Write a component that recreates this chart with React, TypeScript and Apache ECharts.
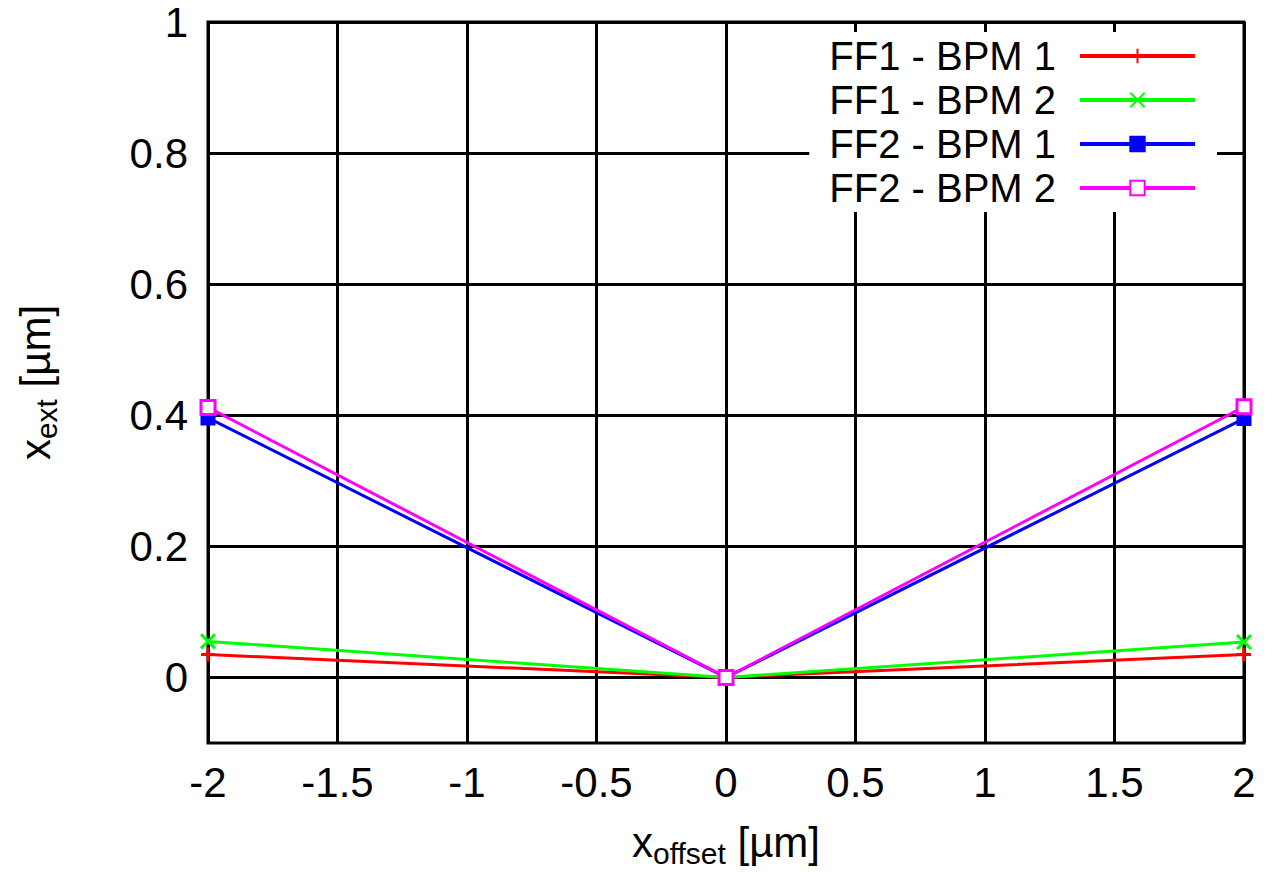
import React, { useEffect, useRef } from "react";
import * as echarts from "echarts";

const seriesNames = ["FF1 - BPM 1", "FF1 - BPM 2", "FF2 - BPM 1", "FF2 - BPM 2"];
const xOffsets = [-2, 0, 2];
const ff1Bpm1 = [0.035, 0, 0.035];
const ff1Bpm2 = [0.055, 0, 0.054];
const ff2Bpm1 = [0.396, 0, 0.395];
const ff2Bpm2 = [0.412, 0, 0.413];
const seriesColors = ["#ff0000", "#00ff00", "#0000ff", "#ff00ff"];

const FONT = "Liberation Sans";

export default function App() {
  const ref = useRef<HTMLDivElement>(null);
  useEffect(() => {
    if (!ref.current) return;
    const chart = echarts.init(ref.current, null, { renderer: "svg" });
    const values = [ff1Bpm1, ff1Bpm2, ff2Bpm1, ff2Bpm2];
    const symbols = [
      "path://M5,0L5,10M0,5L10,5",
      "path://M0,0L10,10M10,0L0,10",
      "rect",
      "rect",
    ];
    const series = values.map((vals, i) => ({
      name: seriesNames[i],
      type: "line",
      data: xOffsets.map((x, j) => [x, vals[j]]),
      symbol: symbols[i],
      symbolSize: i === 2 ? 12 : 14,
      showAllSymbol: true,
      lineStyle: { color: seriesColors[i], width: 3 },
      itemStyle:
        i === 3
          ? { color: "#ffffff", borderColor: seriesColors[i], borderWidth: 3 }
          : { color: seriesColors[i], borderColor: seriesColors[i], borderWidth: 3 },
      z: 3 + i,
    }));
    chart.setOption({
      animation: false,
      backgroundColor: "#ffffff",
      textStyle: { fontFamily: FONT },
      grid: {
        left: 208,
        right: 23,
        top: 22,
        bottom: 124,
        show: true,
        borderColor: "#000",
        borderWidth: 3,
        backgroundColor: "transparent",
      },
      legend: {
        data: seriesNames,
        right: 50,
        top: 32,
        orient: "vertical",
        align: "right",
        itemWidth: 115,
        itemHeight: 18,
        itemGap: 4,
        padding: [4, 20, 4, 20],
        backgroundColor: "#ffffff",
        textStyle: {
          fontSize: 40,
          color: "#000",
          fontFamily: FONT,
          lineHeight: 38,
          padding: [0, 19, 0, 0],
        },
        lineStyle: { width: 4 },
      },
      xAxis: {
        type: "value",
        min: -2,
        max: 2,
        interval: 0.5,
        axisLine: { show: false },
        axisTick: { show: false },
        splitLine: { show: true, lineStyle: { color: "#000", width: 3 } },
        axisLabel: { fontSize: 42, color: "#000", margin: 18, fontFamily: FONT },
        name: "{a|x}{b|offset}{a| [µm]}",
        nameLocation: "middle",
        nameGap: 76,
        nameTextStyle: {
          rich: {
            a: { fontSize: 42, color: "#000", fontFamily: FONT, lineHeight: 46 },
            b: { fontSize: 30, color: "#000", fontFamily: FONT, lineHeight: 46, padding: [22, 0, 0, 0] },
          },
        },
      },
      yAxis: {
        type: "value",
        min: -0.1,
        max: 1,
        interval: 0.1,
        axisLine: { show: false },
        axisTick: { show: false },
        splitLine: {
          show: true,
          lineStyle: { color: ["transparent", "#000"], width: 3 },
        },
        axisLabel: {
          fontSize: 42,
          color: "#000",
          margin: 20,
          fontFamily: FONT,
          formatter: (v: number) => {
            const k = Math.round(v * 10);
            if (k < 0 || k % 2 !== 0) return "";
            return String(Math.round(v * 10) / 10);
          },
        },
        name: "{a|x}{b|ext}{a| [µm]}",
        nameLocation: "middle",
        nameRotate: 90,
        nameGap: 150,
        nameTextStyle: {
          rich: {
            a: { fontSize: 42, color: "#000", fontFamily: FONT, lineHeight: 46 },
            b: { fontSize: 30, color: "#000", fontFamily: FONT, lineHeight: 46, padding: [22, 0, 0, 0] },
          },
        },
      },
      series,
    });
    return () => chart.dispose();
  }, []);
  return (
    <div
      ref={ref}
      style={{ position: "fixed", left: 0, top: 0, width: 1267, height: 873 }}
    />
  );
}
